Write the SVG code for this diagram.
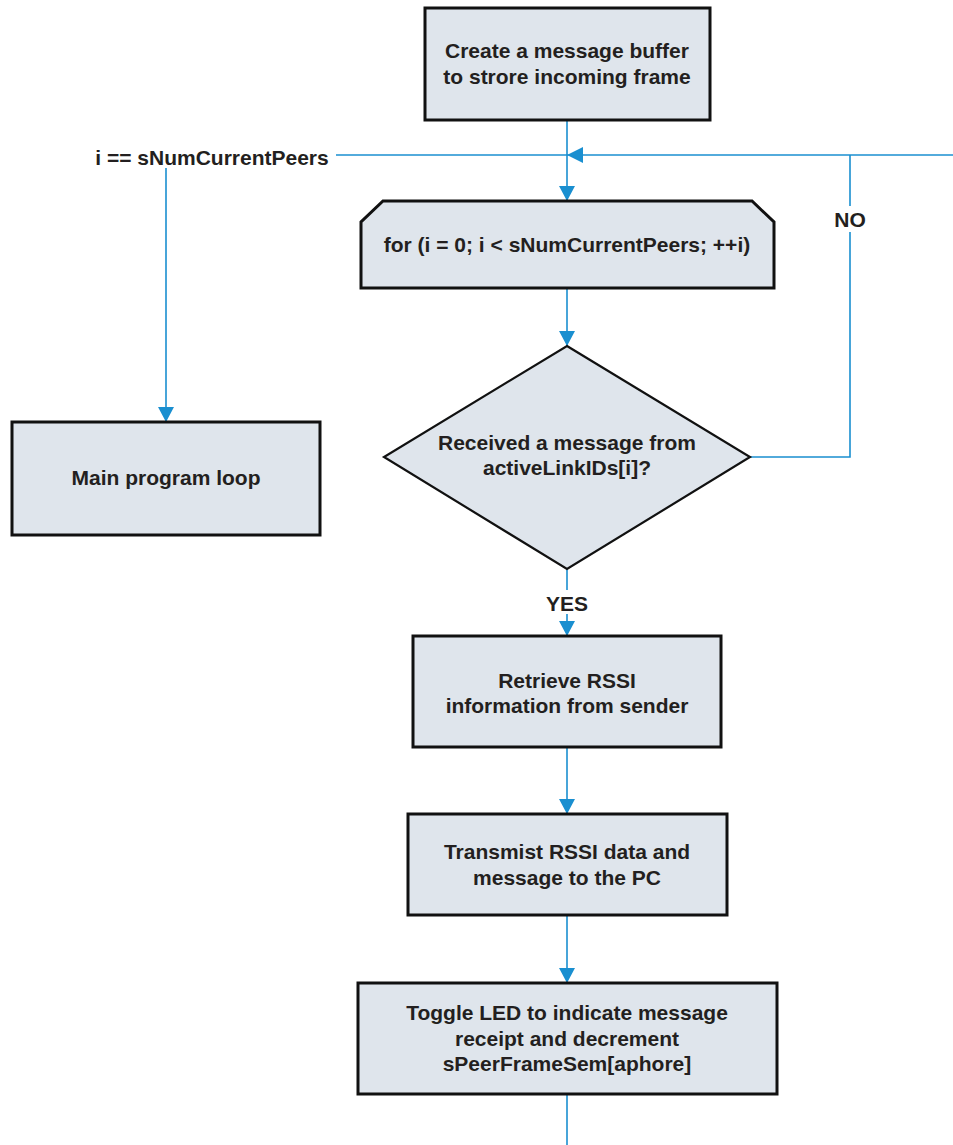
<svg xmlns="http://www.w3.org/2000/svg" width="953" height="1145" viewBox="0 0 953 1145">
<defs>
<style>
.box{fill:#dfe5ec;stroke:#111;stroke-width:3}
.dia{fill:#dfe5ec;stroke:#111;stroke-width:2.2}
.t{font-family:"Liberation Sans",Arial,sans-serif;font-weight:bold;font-size:21px;fill:#231f20;text-anchor:middle}
.c{fill:none;stroke:#1a8fd0;stroke-width:1.6}
.ah{fill:#1a8fd0}
</style>
</defs>
<rect width="953" height="1145" fill="#fff"/>
<g id="connectors">
<path class="c" d="M567,120 V201"/>
<path class="ah" d="M559,186 L575,186 L567,201 Z"/>
<path class="c" d="M336,155 H953"/>
<path class="ah" d="M567,155 L583,147 L583,163 Z"/>
<path class="c" d="M750,457 H850 V155"/>
<path class="c" d="M166,168 V422"/>
<path class="ah" d="M158,407 L174,407 L166,422 Z"/>
<path class="c" d="M567,289 V346"/>
<path class="ah" d="M559,331 L575,331 L567,346 Z"/>
<path class="c" d="M567,569 V590"/>
<path class="c" d="M567,614 V636"/>
<path class="ah" d="M559,621 L575,621 L567,636 Z"/>
<path class="c" d="M567,747 V814"/>
<path class="ah" d="M559,799 L575,799 L567,814 Z"/>
<path class="c" d="M567,915 V983"/>
<path class="ah" d="M559,968 L575,968 L567,983 Z"/>
<path class="c" d="M567,1094 V1145"/>
</g>
<g id="lbl-i">
<text class="t" x="212" y="165">i == sNumCurrentPeers</text>
</g>
<g id="lbl-no">
<rect x="830" y="206" width="40" height="26" fill="#fff"/>
<text class="t" x="850" y="227">NO</text>
</g>
<g id="lbl-yes">
<text class="t" x="567" y="611">YES</text>
</g>
<g id="n1">
<rect class="box" x="425" y="8" width="285" height="112"/>
<text class="t" x="567" y="58">Create a message buffer</text>
<text class="t" x="567" y="84">to strore incoming frame</text>
</g>
<g id="n2">
<path class="box" d="M383,201 H752 L774,222 V288 H361 V222 Z"/>
<text class="t" x="567" y="252">for (i = 0; i &lt; sNumCurrentPeers; ++i)</text>
</g>
<g id="n3">
<path class="dia" d="M567,346 L750,457 L567,569 L384,457 Z"/>
<text class="t" x="567" y="450">Received a message from</text>
<text class="t" x="567" y="475">activeLinkIDs[i]?</text>
</g>
<g id="n4">
<rect class="box" x="12" y="422" width="308" height="113"/>
<text class="t" x="166" y="485">Main program loop</text>
</g>
<g id="n5">
<rect class="box" x="413" y="636" width="308" height="111"/>
<text class="t" x="567" y="688">Retrieve RSSI</text>
<text class="t" x="567" y="713">information from sender</text>
</g>
<g id="n6">
<rect class="box" x="408" y="814" width="319" height="101"/>
<text class="t" x="567" y="859">Transmist RSSI data and</text>
<text class="t" x="567" y="885">message to the PC</text>
</g>
<g id="n7">
<rect class="box" x="358" y="983" width="419" height="111"/>
<text class="t" x="567" y="1020">Toggle LED to indicate message</text>
<text class="t" x="567" y="1046">receipt and decrement</text>
<text class="t" x="567" y="1071">sPeerFrameSem[aphore]</text>
</g>
</svg>
